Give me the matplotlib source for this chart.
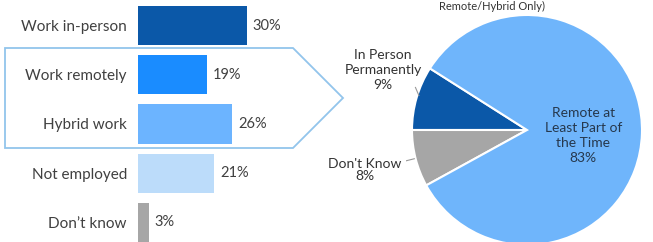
import matplotlib.pyplot as plt
from matplotlib.patches import Polygon
import numpy as np

plt.rcParams['font.family'] = ['Lato', 'DejaVu Sans']

# left side: bar chart
bar_labels = ["Work in-person", "Work remotely", "Hybrid work", "Not employed", "Don\u2019t know"]
bar_values = [30, 19, 26, 21, 3]
bar_colors = ["#0b58a8", "#1a8cff", "#6cb4ff", "#bcdcfa", "#a6a6a6"]

# right side: pie (remote/hybrid only)
pie_labels = ["In Person\nPermanently", "Don't Know", "Remote at\nLeast Part of\nthe Time"]
pie_values = [9, 8, 83]
pie_colors = ["#0b58a8", "#a6a6a6", "#6fb5fb"]

W, H = 653, 242
fig = plt.figure(figsize=(W / 100, H / 100), dpi=100)

# bar axes, laid out in pixels
ax = fig.add_axes([138 / W, -5 / H, 363 / W, 246 / H])
ax.barh(range(len(bar_values)), bar_values, height=0.8, color=bar_colors)
ax.set_xlim(0, 100)
ax.set_ylim(4.5, -0.5)
ax.set_yticks(range(len(bar_labels)), bar_labels)
ax.tick_params(axis='y', length=0, pad=8, labelsize=11, labelcolor='#404040')
ax.set_xticks([])
for s in ax.spines.values():
    s.set_visible(False)
ax.patch.set_alpha(0)
for i, v in enumerate(bar_values):
    ax.text(v + 1.6, i, f"{v}%", va='center', ha='left', fontsize=10.5, color='#404040')

# arrow outline round the remote / hybrid bars
pts = [(5, 48), (293, 48), (343, 98), (293, 148), (5, 148)]
arrow = Polygon([(x / W, 1 - y / H) for x, y in pts], closed=True, fill=False,
                edgecolor='#92c5ec', linewidth=1.3, transform=fig.transFigure)
fig.add_artist(arrow)

# pie axes
r_px = 115
side = 2 * 1.05 * r_px
pax = fig.add_axes([(527 - side / 2) / W, (H - 130 - side / 2) / H, side / W, side / H])
wedges, _ = pax.pie(pie_values, colors=pie_colors, startangle=147.6, counterclock=True,
                    wedgeprops=dict(edgecolor='white', linewidth=1.5))
pax.set_xlim(-1.05, 1.05)
pax.set_ylim(-1.05, 1.05)
pax.set_aspect('equal')
pax.set_axis_off()

mids = [np.deg2rad((w.theta1 + w.theta2) / 2) for w in wedges]

# In Person label
pax.text(-1.25, 0.52, f"{pie_labels[0]}\n{pie_values[0]}%", ha='center', va='center',
         fontsize=10, color='#333333', linespacing=1.3)
pax.plot([-0.97, -0.94], [0.37, 0.3], color='#999999', lw=0.8)
# Don't Know label
pax.text(-1.41, -0.35, f"{pie_labels[1]}\n{pie_values[1]}%", ha='center', va='center',
         fontsize=10, color='#333333', linespacing=1.0)
pax.plot([-1.1, -0.98], [-0.28, -0.25], color='#999999', lw=0.8)
# Remote label inside
pax.text(0.49 * np.cos(mids[2]), 0.49 * np.sin(mids[2]) - 0.03,
         f"{pie_labels[2]}\n{pie_values[2]}%", ha='center', va='center',
         fontsize=10, color='#26384d', linespacing=1.3)

# title sitting at the top edge
fig.text(492 / W, 1 - 1 / H, "Remote/Hybrid Only)", ha='center', va='top',
         fontsize=8, color='#333333')

fig.savefig("out.png", dpi=100)
